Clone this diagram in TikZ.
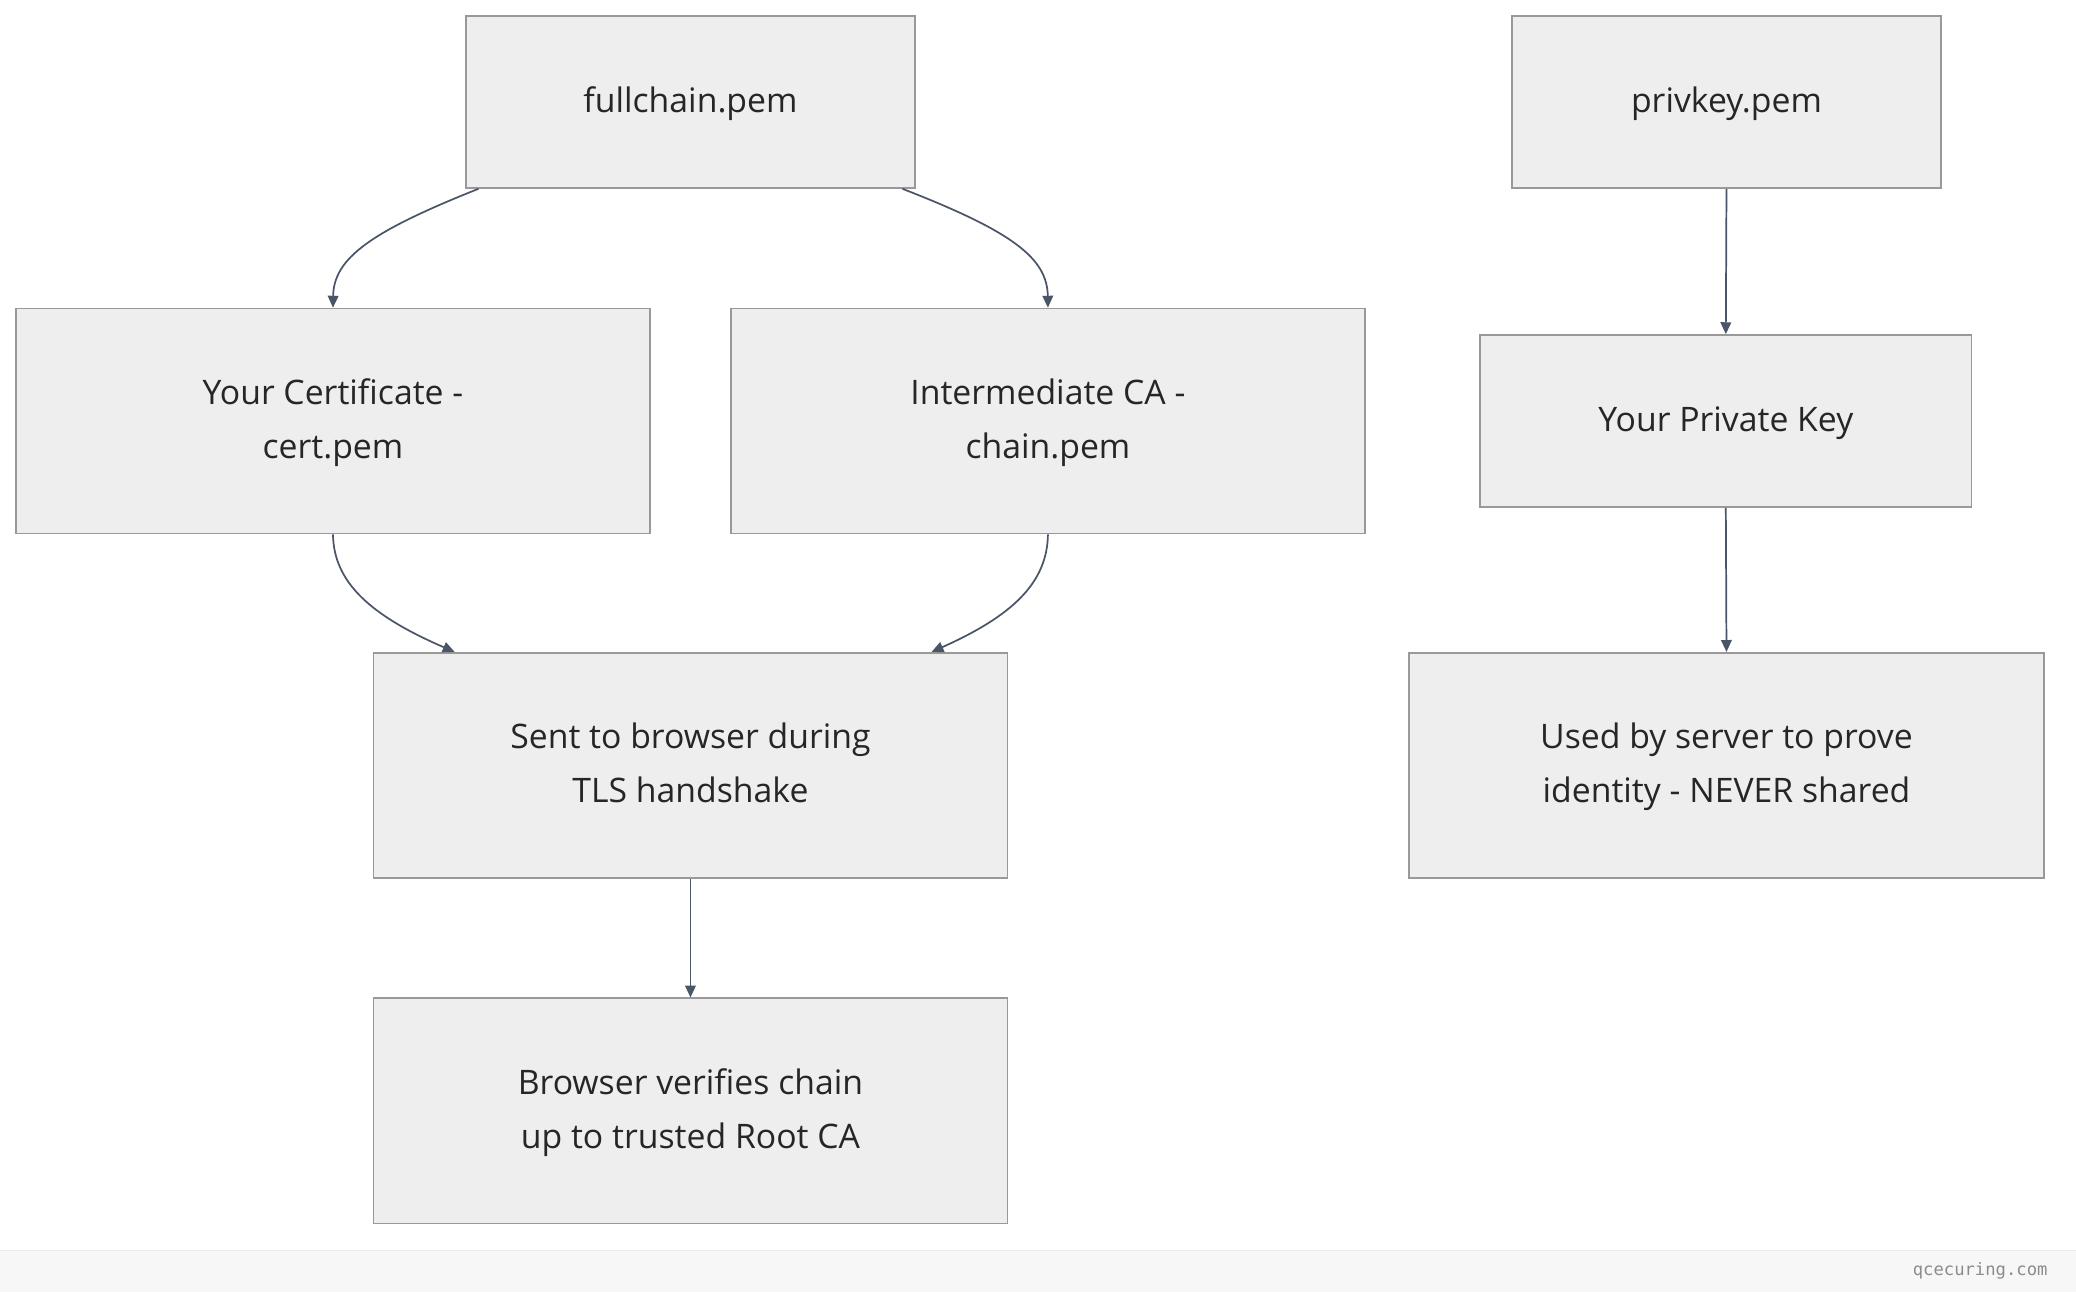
\documentclass[tikz,border=0pt]{standalone}
\usepackage{fontspec}
\setmainfont{Open Sans}
\setmonofont{DejaVu Sans Mono}
\usetikzlibrary{arrows.meta,calc}
\definecolor{boxfill}{HTML}{EEEEEE}
\definecolor{boxline}{HTML}{999999}
\definecolor{edge}{HTML}{4A5568}
\begin{document}
\begin{tikzpicture}[x=1pt,y=-1pt,
  box/.style={draw=boxline,fill=boxfill,line width=1.2pt,inner sep=0pt,align=center,font=\fontsize{25.5}{40}\selectfont,text=black!85},
  arr/.style={draw=edge,line width=1.3pt,-{Triangle[length=9pt,width=8pt]}}]
\useasboundingbox (0,0) rectangle (1568,976);
\fill[white] (0,0) rectangle (1568,976);
\fill[black!3] (0,944) rectangle (1568,976);
\draw[black!8] (0,944) -- (1568,944);
\node[anchor=east,font=\ttfamily\fontsize{13}{15}\selectfont,text=black!45] (wm) at (1550,960) {qcecuring.com};
\newcommand\bx[6]{\node[box,minimum width=#4-#2,minimum height=#5-#3] (#1) at ({(#2+#4)/2},{(#3+#5)/2}) {\raisebox{-3pt}{\begin{tabular}{c}#6\end{tabular}}};}
\bx{fc}{352}{12}{691}{142}{fullchain.pem}
\bx{pk}{1142}{12}{1466}{142}{privkey.pem}
\bx{ce}{12}{233}{491}{403}{Your Certificate -\\[1pt]cert.pem}
\bx{ic}{552}{233}{1031}{403}{Intermediate CA -\\[1pt]chain.pem}
\bx{yp}{1118}{253}{1489}{383}{Your Private Key}
\bx{se}{282}{493}{761}{663}{Sent to browser during\\[1pt]TLS handshake}
\bx{us}{1064}{493}{1544}{663}{Used by server to prove\\[1pt]identity - NEVER shared}
\bx{br}{282}{754}{761}{924}{Browser verifies chain\\[1pt]up to trusted Root CA}
\draw[arr] ($(fc.south west)+(10,0)$) .. controls (280,175) and (252,195) .. (ce.north);
\draw[arr] ($(fc.south east)+(-10,0)$) .. controls (765,175) and (791,195) .. (ic.north);
\draw[arr] (ce.south) .. controls (252,440) and (280,465) .. ($(se.north west)+(62,0)$);
\draw[arr] (ic.south) .. controls (791,440) and (765,465) .. ($(se.north east)+(-58,0)$);
\draw[arr] (se.south) -- (br.north);
\draw[arr] (pk.south) -- (yp.north);
\draw[arr] (yp.south) -- (us.north);
\end{tikzpicture}
\end{document}
